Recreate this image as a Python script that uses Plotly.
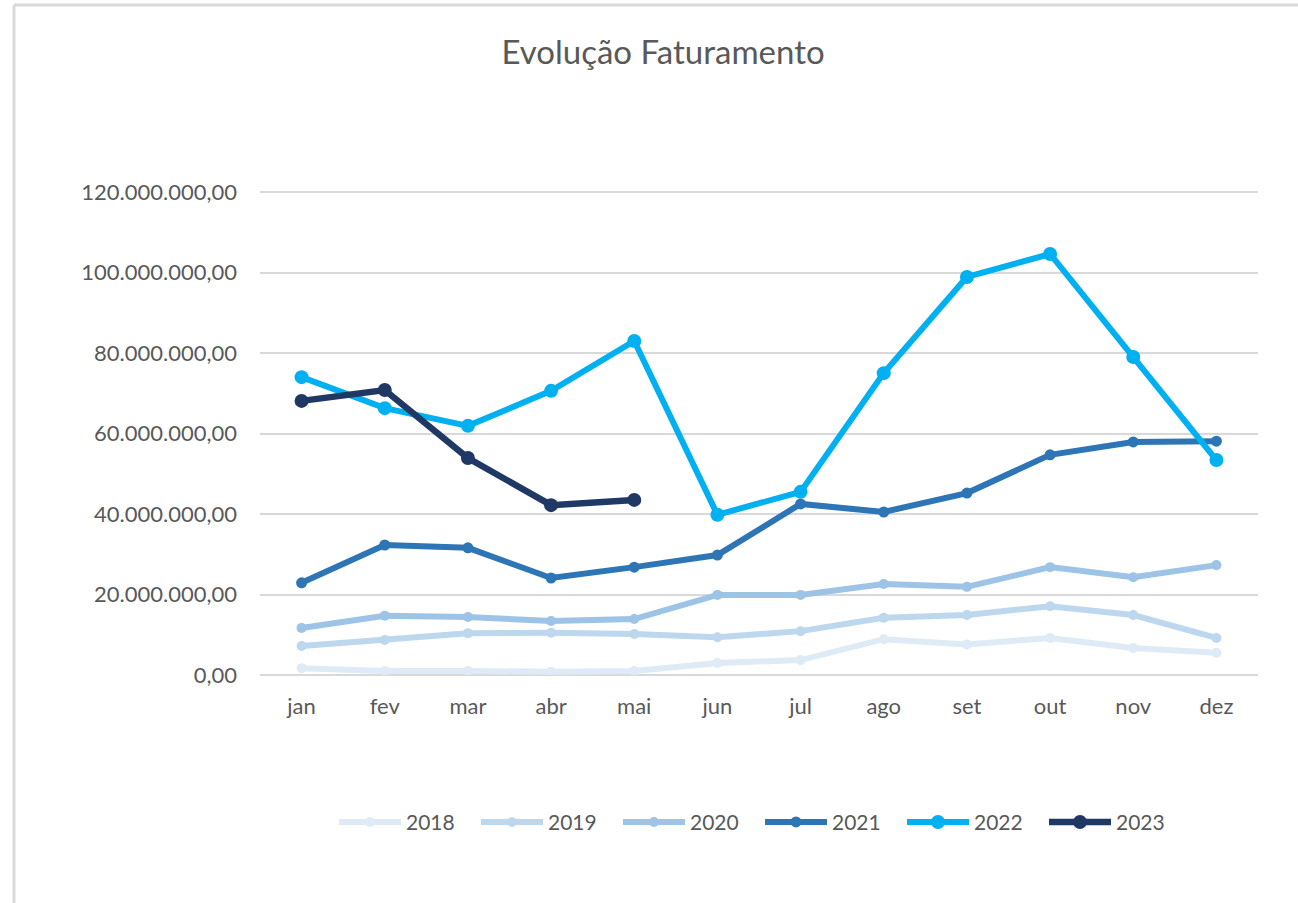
import plotly.graph_objects as go

months = ["jan", "fev", "mar", "abr", "mai", "jun", "jul", "ago", "set", "out", "nov", "dez"]

y2018 = [1.7e6, 1.0e6, 1.0e6, 0.8e6, 1.0e6, 3.0e6, 3.7e6, 8.9e6, 7.6e6, 9.2e6, 6.7e6, 5.5e6]
y2019 = [7.2e6, 8.7e6, 10.4e6, 10.5e6, 10.2e6, 9.4e6, 10.9e6, 14.2e6, 14.9e6, 17.1e6, 14.9e6, 9.2e6]
y2020 = [11.7e6, 14.7e6, 14.4e6, 13.4e6, 13.9e6, 19.9e6, 19.9e6, 22.6e6, 21.9e6, 26.8e6, 24.3e6, 27.3e6]
y2021 = [22.9e6, 32.3e6, 31.6e6, 24.1e6, 26.8e6, 29.8e6, 42.5e6, 40.5e6, 45.2e6, 54.7e6, 57.9e6, 58.1e6]
y2022 = [74.0e6, 66.3e6, 61.9e6, 70.6e6, 83.0e6, 39.8e6, 45.5e6, 75.0e6, 98.9e6, 104.6e6, 79.0e6, 53.4e6]
y2023 = [68.1e6, 70.8e6, 53.9e6, 42.2e6, 43.5e6]

series = [
    ("2018", y2018, "#DEEBF7", 6, 10),
    ("2019", y2019, "#BDD7EE", 6, 10),
    ("2020", y2020, "#9DC3E6", 6, 10),
    ("2021", y2021, "#2E75B6", 6, 11),
    ("2022", y2022, "#00B0F0", 6, 14),
    ("2023", y2023, "#1F3864", 6.5, 14),
]

fig = go.Figure()
for name, vals, color, lw, ms in series:
    fig.add_trace(go.Scatter(
        x=months[:len(vals)], y=vals, name=name, mode="lines+markers",
        line=dict(color=color, width=lw),
        marker=dict(color=color, size=ms),
    ))

fig.update_layout(
    width=1298, height=903,
    paper_bgcolor="white", plot_bgcolor="white",
    margin=dict(l=260, r=40, t=191, b=228),
    separators=",.",
    font=dict(family="Lato, Open Sans, sans-serif", color="#595959", size=22),
    title=dict(text="Evolução Faturamento", x=663 / 1298, xanchor="center",
               y=1 - 52 / 903, yanchor="middle",
               font=dict(size=33, color="#595959")),
    showlegend=True,
    legend=dict(orientation="h", x=(334 - 260) / 998, xanchor="left",
                y=(675 - 822) / 483, yanchor="middle",
                font=dict(size=21, color="#595959"), itemwidth=62,
                entrywidth=65, entrywidthmode="pixels"),
    xaxis=dict(type="category", categoryorder="array", categoryarray=months,
               range=[-0.5, 11.5], showgrid=False, showline=False, ticks="",
               ticklabelstandoff=16, tickfont=dict(size=22)),
    yaxis=dict(range=[0, 120.25e6], tickvals=[0, 20e6, 40e6, 60e6, 80e6, 100e6, 120e6],
               tickformat=",.2f", showgrid=True, gridcolor="#D9D9D9", gridwidth=2,
               zeroline=True, zerolinecolor="#D9D9D9", zerolinewidth=2,
               showline=False, ticks="", ticklabelstandoff=22, tickfont=dict(size=22)),
)

# chart border (top and left edges visible in reference)
fig.add_shape(type="line", xref="paper", yref="paper",
              x0=(14 - 260) / 998, x1=(1298 - 260) / 998,
              y0=(675 - 5) / 484, y1=(675 - 5) / 484,
              line=dict(color="#D9D9D9", width=3))
fig.add_shape(type="line", xref="paper", yref="paper",
              x0=(14 - 260) / 998, x1=(14 - 260) / 998,
              y0=(675 - 5) / 484, y1=(675 - 903) / 484,
              line=dict(color="#D9D9D9", width=3))

fig.write_html("out.html", config={"displayModeBar": False},
               post_script="document.body.style.margin='0';document.body.style.overflow='hidden';")
